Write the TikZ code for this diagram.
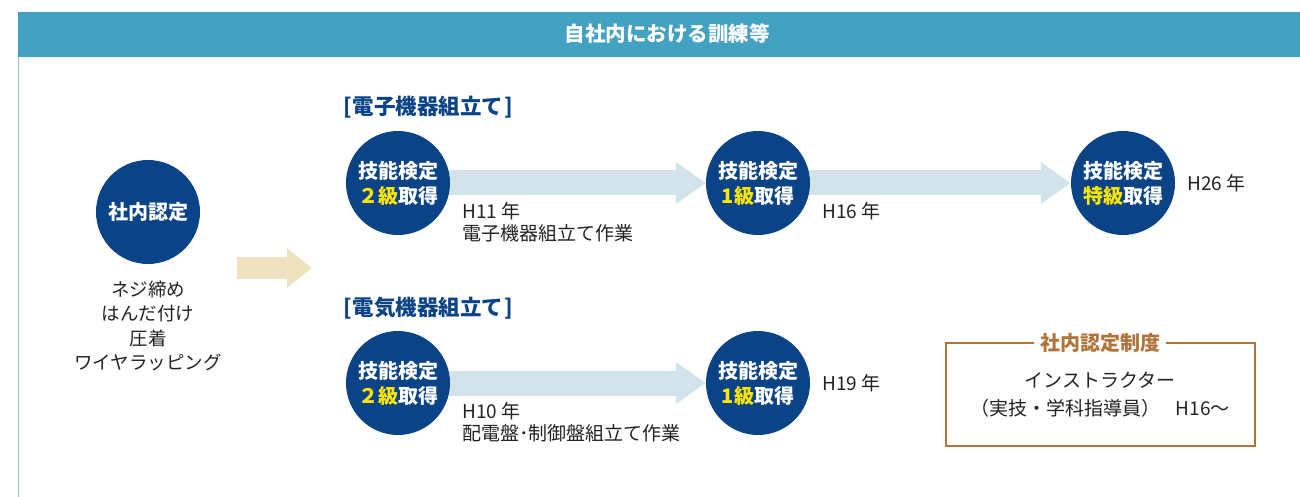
\documentclass[tikz,border=0pt]{standalone}
\usepackage{fontspec}
\setmainfont{Noto Sans CJK JP}
\usetikzlibrary{arrows.meta,backgrounds}
\definecolor{hdr}{HTML}{43A1C2}
\definecolor{navy}{HTML}{0B4486}
\definecolor{lblue}{HTML}{D3E3EC}
\definecolor{beige}{HTML}{EEE2C1}
\definecolor{brown}{HTML}{B0733A}
\definecolor{yel}{HTML}{FFE600}
\definecolor{txt}{HTML}{222222}
\tikzset{
  circ/.style={circle, fill=navy, minimum size=104pt, inner sep=0pt, text=white, align=center,
    font=\bfseries\fontsize{20}{25}\selectfont},
  flow/.style={lblue, line width=25pt, -{Triangle[length=30pt,width=40pt]}},
  lbl/.style={anchor=west, text=txt, font=\fontsize{19}{22}\selectfont, inner sep=0pt, align=left},
  sect/.style={anchor=west, text=navy, font=\bfseries\fontsize{21.5}{24}\selectfont, inner sep=0pt},
}
\begin{document}
\begin{tikzpicture}[x=1pt,y=-1pt]
\useasboundingbox (0,0) rectangle (1300,497);
% header
\fill[hdr] (18,12) rectangle (1300,57);
\node[text=white, font=\bfseries\fontsize{20.5}{22}\selectfont] (title) at (667,34) {自社内における訓練等};
\draw[hdr!60, line width=1pt] (18.5,57) -- (18.5,497);

% left
\node[circ] (sn) at (148,212) {社内認定};
\node[text=txt, align=center, font=\fontsize{18.5}{24.5}\selectfont, anchor=north] (sk) at (148,277)
  {ネジ締め\\はんだ付け\\圧着\\ワイヤラッピング};
\coordinate (b1) at (237,268);
\coordinate (b2) at (312,268);
\draw[beige, line width=22pt, -{Triangle[length=25pt,width=38pt]}] (b1) -- (b2);

% section labels
\node[sect] (s1) at (343,107) {[\kern1pt電子機器組立て\kern1pt]};
\node[sect] (s2) at (343,308) {[\kern1pt電気機器組立て\kern1pt]};

% top row
\node[circ] (t1) at (398,183) {技能検定\\{\color{yel}２級}取得};
\node[circ] (t2) at (758,183) {技能検定\\{\color{yel}1級}取得};
\node[circ] (t3) at (1123,183) {技能検定\\{\color{yel}特級}取得};
% bottom row
\node[circ] (u1) at (398,383) {技能検定\\{\color{yel}２級}取得};
\node[circ] (u2) at (758,383) {技能検定\\{\color{yel}1級}取得};

\begin{scope}[on background layer]
\draw[flow] (t1.center) -- (t2.west);
\draw[flow] (t2.center) -- (t3.west);
\draw[flow] (u1.center) -- (u2.west);
\end{scope}

% labels
\node[lbl] (l1) at (462,222) {H11 年\\電子機器組立て作業};
\node[lbl] (l2) at (822,211) {H16 年};
\node[lbl] (l3) at (1187,183) {H26 年};
\node[lbl] (l4) at (822,383) {H19 年};
\node[lbl] (l5) at (462,422) {H10 年\\配電盤･制御盤組立て作業};

% box
\draw[brown, line width=2pt] (946,343) rectangle (1255,446);
\node[fill=white, text=brown, font=\bfseries\fontsize{20}{22}\selectfont, inner xsep=6pt] (bt) at (1100,343) {社内認定制度};
\node[text=txt, align=center, font=\fontsize{19}{28}\selectfont] (bx) at (1100,395)
  {インストラクター\\（実技・学科指導員）\hspace{0.8em}H16～};
\end{tikzpicture}
\end{document}
